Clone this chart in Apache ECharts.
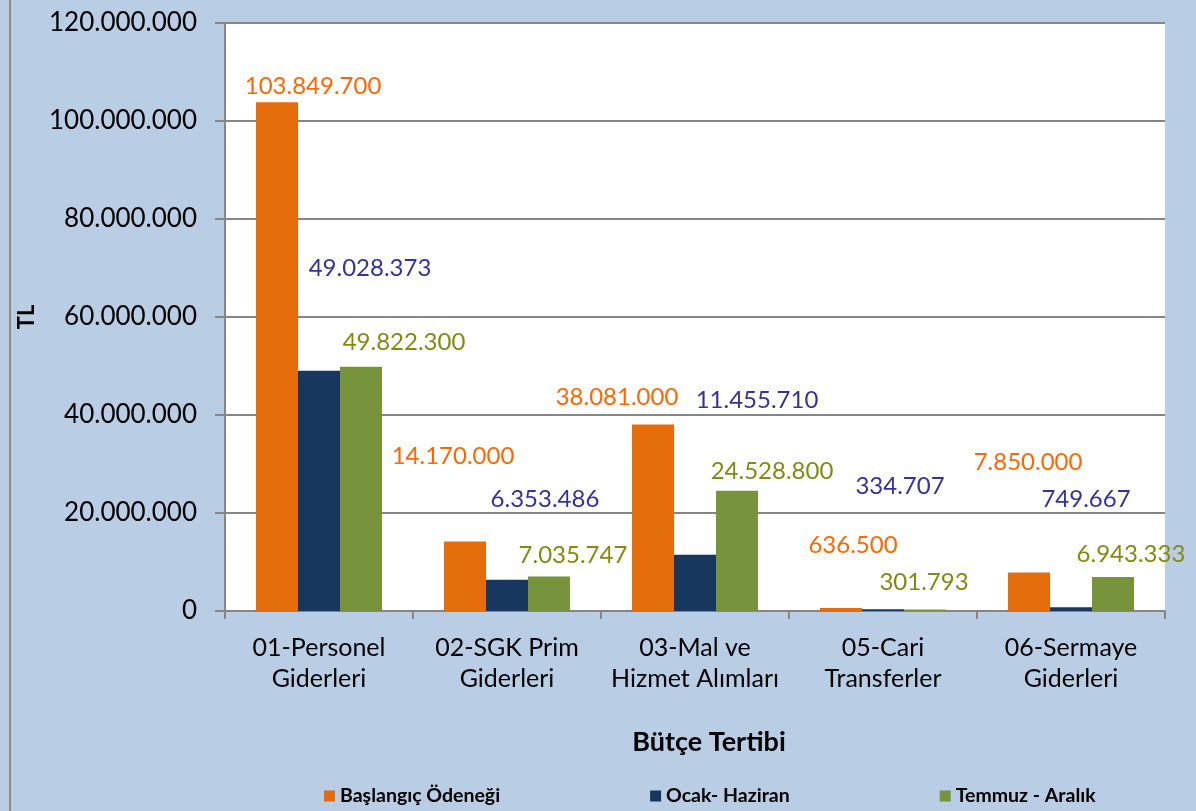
<!DOCTYPE html>
<html>
<head>
<meta charset="utf-8">
<script src="https://cdn.jsdelivr.net/npm/echarts@6/dist/echarts.min.js"></script>
<style>
    html, body { margin: 0; padding: 0; background: #b9cde5; }
    #chart { position: absolute; left: 0; top: 0; width: 1196px; height: 811px; }
    #frame { position: absolute; left: 9px; top: 0; width: 2px; height: 811px; background: #8c8c8c; }
</style>
</head>
<body>
<div id="frame"></div>
<div id="chart"></div>
<script>
    // Bütçe tertibi (ekonomik sınıflandırma)
    const categories = ['01-Personel\nGiderleri', '02-SGK Prim\nGiderleri', '03-Mal ve\nHizmet Alımları', '05-Cari\nTransferler', '06-Sermaye\nGiderleri'];
    const seriesNames = ['Başlangıç Ödeneği', 'Ocak- Haziran', 'Temmuz - Aralık'];
    const baslangic = [103849700, 14170000, 38081000, 636500, 7850000];
    const ocakHaziran = [49028373, 6353486, 11455710, 334707, 749667];
    const temmuzAralik = [49822300, 7035747, 24528800, 301793, 6943333];
    const yTicks = [0, 20000000, 40000000, 60000000, 80000000, 100000000, 120000000];

    const barColors = ['#e46c0a', '#17375e', '#77933c'];
    const labelColors = ['#ff6600', '#333399', '#848a10'];
    // label nudges (px) as placed in the original sheet
    const labelOffsets = [
        [[36, 1], [-12, -68], [-36, -10], [12, -46], [-1, -93]],
        [[51, -85], [38, -64], [62, -138], [17, -106], [15, -91]],
        [[43, -8], [24, -4], [35, -3], [-1, -10], [18, -6]]
    ];

    const fmt = v => String(v).replace(/\B(?=(\d{3})+(?!\d))/g, '.');
    const FONT = 'Lato';

    const chart = echarts.init(document.getElementById('chart'));
    const seriesData = [baslangic, ocakHaziran, temmuzAralik];

    chart.setOption({
        backgroundColor: 'transparent',
        textStyle: { fontFamily: FONT },
        grid: { left: 225, right: 31, top: 23, bottom: 200 },
        legend: {
            data: seriesNames,
            left: 319,
            top: 781,
            icon: 'rect',
            itemWidth: 11,
            itemHeight: 11,
            itemGap: 150,
            textStyle: { fontFamily: FONT, fontWeight: 'bold', fontSize: 19.5, color: '#000' }
        },
        xAxis: {
            type: 'category',
            data: categories,
            name: 'Bütçe Tertibi',
            nameLocation: 'middle',
            nameGap: 118,
            nameTextStyle: { fontFamily: FONT, fontWeight: 'bold', fontSize: 27, color: '#000', padding: [0, 0, 0, 28] },
            axisLine: { lineStyle: { color: '#868686', width: 2 } },
            axisTick: { show: true, length: 8, lineStyle: { color: '#868686', width: 2 } },
            axisLabel: { interval: 0, fontFamily: FONT, fontSize: 25, color: '#000', lineHeight: 31, margin: 21 }
        },
        yAxis: {
            type: 'value',
            min: yTicks[0],
            max: yTicks[yTicks.length - 1],
            interval: yTicks[1] - yTicks[0],
            name: 'TL',
            nameLocation: 'middle',
            nameGap: 180,
            nameRotate: 90,
            nameTextStyle: { fontFamily: FONT, fontWeight: 'bold', fontSize: 22, color: '#000' },
            axisLine: { show: true, lineStyle: { color: '#868686', width: 2 } },
            axisTick: { show: true, length: 10, lineStyle: { color: '#868686', width: 2 } },
            splitLine: { lineStyle: { color: '#868686', width: 2 } },
            axisLabel: { fontFamily: FONT, fontSize: 26, color: '#000', margin: 28, formatter: fmt }
        },
        graphic: [{
            type: 'rect',
            z: -10,
            shape: { x: 225, y: 23, width: 940, height: 588 },
            style: { fill: '#ffffff' }
        }],
        series: seriesData.map((arr, s) => ({
            name: seriesNames[s],
            type: 'bar',
            barGap: '0%',
            barCategoryGap: '33%',
            itemStyle: { color: barColors[s] },
            data: arr.map((v, i) => ({
                value: v,
                label: {
                    show: true,
                    position: 'top',
                    offset: labelOffsets[s][i],
                    formatter: p => fmt(p.value),
                    fontFamily: FONT,
                    fontSize: 24,
                    color: labelColors[s]
                }
            }))
        }))
    });
</script>
</body>
</html>
